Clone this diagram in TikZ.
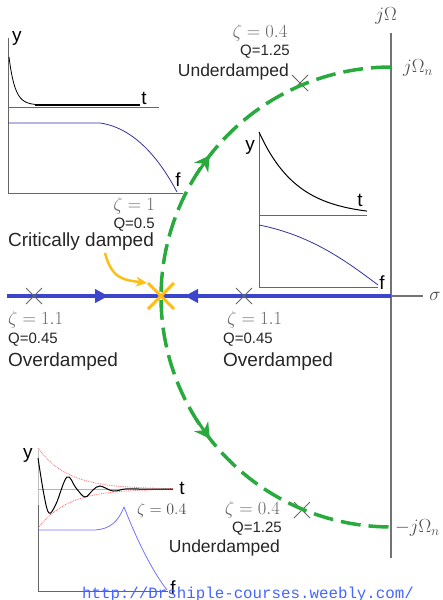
\RequirePackage{fix-cm}
\documentclass[tikz,border=0pt]{standalone}
\usepackage{fontspec}
\setmainfont{Liberation Sans}
\setmonofont{Liberation Mono}
\usetikzlibrary{arrows.meta, positioning, calc}
\definecolor{locusgreen}{RGB}{40,170,60}
\definecolor{axisblue}{RGB}{60,70,205}
\definecolor{critorange}{RGB}{255,190,20}
\definecolor{curveblue}{RGB}{50,50,160}
\definecolor{urlblue}{RGB}{70,100,255}
\tikzset{
  damplbl/.style={inner sep=0pt, font=\fontsize{19}{21}\selectfont, text=black!85},
  underlbl/.style={inner sep=0pt, font=\fontsize{17.5}{20}\selectfont, text=black!85},
  qlbl/.style={inner sep=0pt, font=\fontsize{15}{17}\selectfont, text=black!85},
  zetalbl/.style={inner sep=0pt, font=\fontsize{18.5}{20}\selectfont, text=black!60},
  axlbl/.style={inner sep=0pt, font=\fontsize{19}{21}\selectfont},
  plotaxis/.style={draw=black!60, line width=0.8pt},
  pole/.pic={\draw[black!60, line width=0.8pt] (-8,-8) -- (8,8) (-8,8) -- (8,-8);},
  locus/.style={locusgreen, line width=3.5pt, dash pattern=on 20pt off 8pt},
  garrow/.style={locusgreen, line width=3pt, -{Stealth[length=15pt,width=17pt]}},
  barrow/.style={axisblue, line width=1pt, -{Triangle[length=13pt,width=14pt]}}
}

\begin{document}
\begin{tikzpicture}[x=1pt, y=-1pt]
    \useasboundingbox (0,0) rectangle (443,600);

    % s-plane axes
    \coordinate (origin) at (391,296);
    \coordinate (jtop) at (391,33);
    \coordinate (jbot) at (391,558);
    \coordinate (sigend) at (423,296);
    \coordinate (sigstart) at (7,296);
    \draw[black!55, line width=1.2pt] (jtop) -- (jbot);
    \draw[black!55, line width=1.2pt] (origin) -- (sigend);
    \draw[axisblue, line width=4pt] (sigstart) -- (origin);
    \node[axlbl, text=black!70] (jw) at (386,16) {$j\Omega$};
    \node[axlbl, text=black!70, anchor=west] (jwn) at (403,68) {$j\Omega_n$};
    \node[axlbl, text=black!70, anchor=west] (mjwn) at (395,528) {$-j\Omega_n$};
    \node[axlbl, text=black!70] (sigma) at (435,296) {$\sigma$};

    % blue arrows on the real axis
    \coordinate (bl1) at (80,296);
    \coordinate (bl1tip) at (108,296);
    \coordinate (bl2) at (215,296);
    \coordinate (bl2tip) at (185,296);
    \draw[barrow] (bl1) -- (bl1tip);
    \draw[barrow] (bl2) -- (bl2tip);

    % poles
    \pic at (34,296) {pole};
    \pic at (244,296) {pole};
    \pic at (300,83) {pole};
    \pic at (302,510) {pole};

    % critical point
    \coordinate (crit) at (161,296);
    \draw[critorange, line width=3pt] ($(crit)+(-13,-13)$) -- ($(crit)+(13,13)$)
        ($(crit)+(-13,13)$) -- ($(crit)+(13,-13)$);
    \coordinate (critfrom) at (105,253);
    \draw[critorange, line width=2.5pt, -{Stealth[length=11pt,width=10pt]}]
        (critfrom) .. controls (112,280) and (125,280) .. (147,283);

    % root locus (half circle)
    \draw[locus] plot[domain=90:270, samples=100] ({391+230*cos(\x)},{297-230*sin(\x)});
    \coordinate (ga1) at ({391+230*cos(148)},{297-230*sin(148)});
    \coordinate (ga1tip) at ({391+230*cos(142)},{297-230*sin(142)});
    \coordinate (ga2) at ({391+230*cos(212)},{297-230*sin(212)});
    \coordinate (ga2tip) at ({391+230*cos(218)},{297-230*sin(218)});
    \draw[garrow] (ga1) -- (ga1tip);
    \draw[garrow] (ga2) -- (ga2tip);

    % labels
    \node[zetalbl] (ztop) at (260,33) {$\zeta=0.4$};
    \node[qlbl, anchor=east] (qtop) at (290,52) {Q=1.25};
    \node[underlbl, anchor=east] (utop) at (289,72) {Underdamped};
    \node[zetalbl, anchor=east] (zcrit) at (155,206) {$\zeta=1$};
    \node[qlbl, anchor=east] (qcrit) at (155,225) {Q=0.5};
    \node[damplbl, anchor=west] (crlbl) at (8,242) {Critically damped};
    \node[zetalbl, anchor=west] (zleft) at (8,320) {$\zeta=1.1$};
    \node[qlbl, anchor=west] (qleft) at (8,340) {Q=0.45};
    \node[damplbl, anchor=west] (oleft) at (8,362) {Overdamped};
    \node[zetalbl, anchor=west] (zright) at (227,320) {$\zeta=1.1$};
    \node[qlbl, anchor=west] (qright) at (223,340) {Q=0.45};
    \node[damplbl, anchor=west] (oright) at (223,362) {Overdamped};
    \node[zetalbl, anchor=east] (zbot) at (280,510) {$\zeta=0.4$};
    \node[qlbl, anchor=east] (qbot) at (282,529) {Q=1.25};
    \node[underlbl, anchor=east] (ubot) at (280,548) {Underdamped};

    % inset: critically damped
    \draw[plotaxis] (8,38) -- (8,193) -- (183,193);
    \draw[plotaxis] (8,107) -- (159,107);
    \draw[black, line width=0.8pt] plot[domain=9:36, samples=40] (\x,{105-48*exp(-(\x-9)/6)});
    \draw[black, line width=1.6pt] (35,105) -- (140,105);
    \draw[curveblue, line width=0.8pt] (8,123) -- (100,123) .. controls (135,128) and (160,160) .. (177,192);
    \node[axlbl] (y1) at (17,38) {y};
    \node[axlbl] (t1) at (144,98) {t};
    \node[axlbl] (f1) at (178,180) {f};

    % inset: overdamped
    \draw[plotaxis] (259,132) -- (259,287) -- (378,287);
    \draw[plotaxis] (259,215) -- (367,215);
    \draw[black, line width=1pt] plot[domain=259:367, samples=50] (\x,{216-84*exp(-(\x-259)/38)});
    \draw[curveblue, line width=0.8pt] (259,225) .. controls (310,235) and (345,260) .. (378,285);
    \node[axlbl] (y2) at (250,147) {y};
    \node[axlbl] (t2) at (360,200) {t};
    \node[axlbl] (f2) at (382,283) {f};

    % inset: underdamped
    \draw[black!25, line width=0.6pt] (38,450) -- (38,505);
    \draw[black!30, line width=0.6pt] (38,489) -- (173,489);
    \draw[plotaxis] (38,505) -- (38,591) -- (168,591);
    \draw[red!60, densely dotted, line width=0.8pt] plot[domain=38:173, samples=50] (\x,{489-41*exp(-(\x-38)/30)});
    \draw[red!60, densely dotted, line width=0.8pt] plot[domain=38:173, samples=50] (\x,{489+39*exp(-(\x-38)/30)});
    \draw[black, line width=1pt] plot[smooth, tension=0.6] coordinates {(38,458) (44,495) (49,513) (56,504) (67,477) (76,488) (85,497) (93,490) (100,486) (113,491) (125,489) (140,489) (173,489)};
    \draw[blue!55, line width=0.8pt] (38,530) -- (95,530) .. controls (110,529) and (118,522) .. (124,507) .. controls (135,535) and (150,568) .. (167,590);
    \node[axlbl] (y3) at (28,455) {y};
    \node[axlbl] (t3) at (182,488) {t};
    \node[axlbl] (f3) at (173,588) {f};
    \node[zetalbl, text=black!70, font=\fontsize{16}{18}\selectfont, anchor=west] (zpeak) at (137,510) {$\zeta=0.4$};

    % source
    \node[inner sep=0pt, text=urlblue, font=\ttfamily\fontsize{15.8}{17}\selectfont] (url) at (248,594) {http://Drshiple-courses.weebly.com/};
\end{tikzpicture}
\end{document}
